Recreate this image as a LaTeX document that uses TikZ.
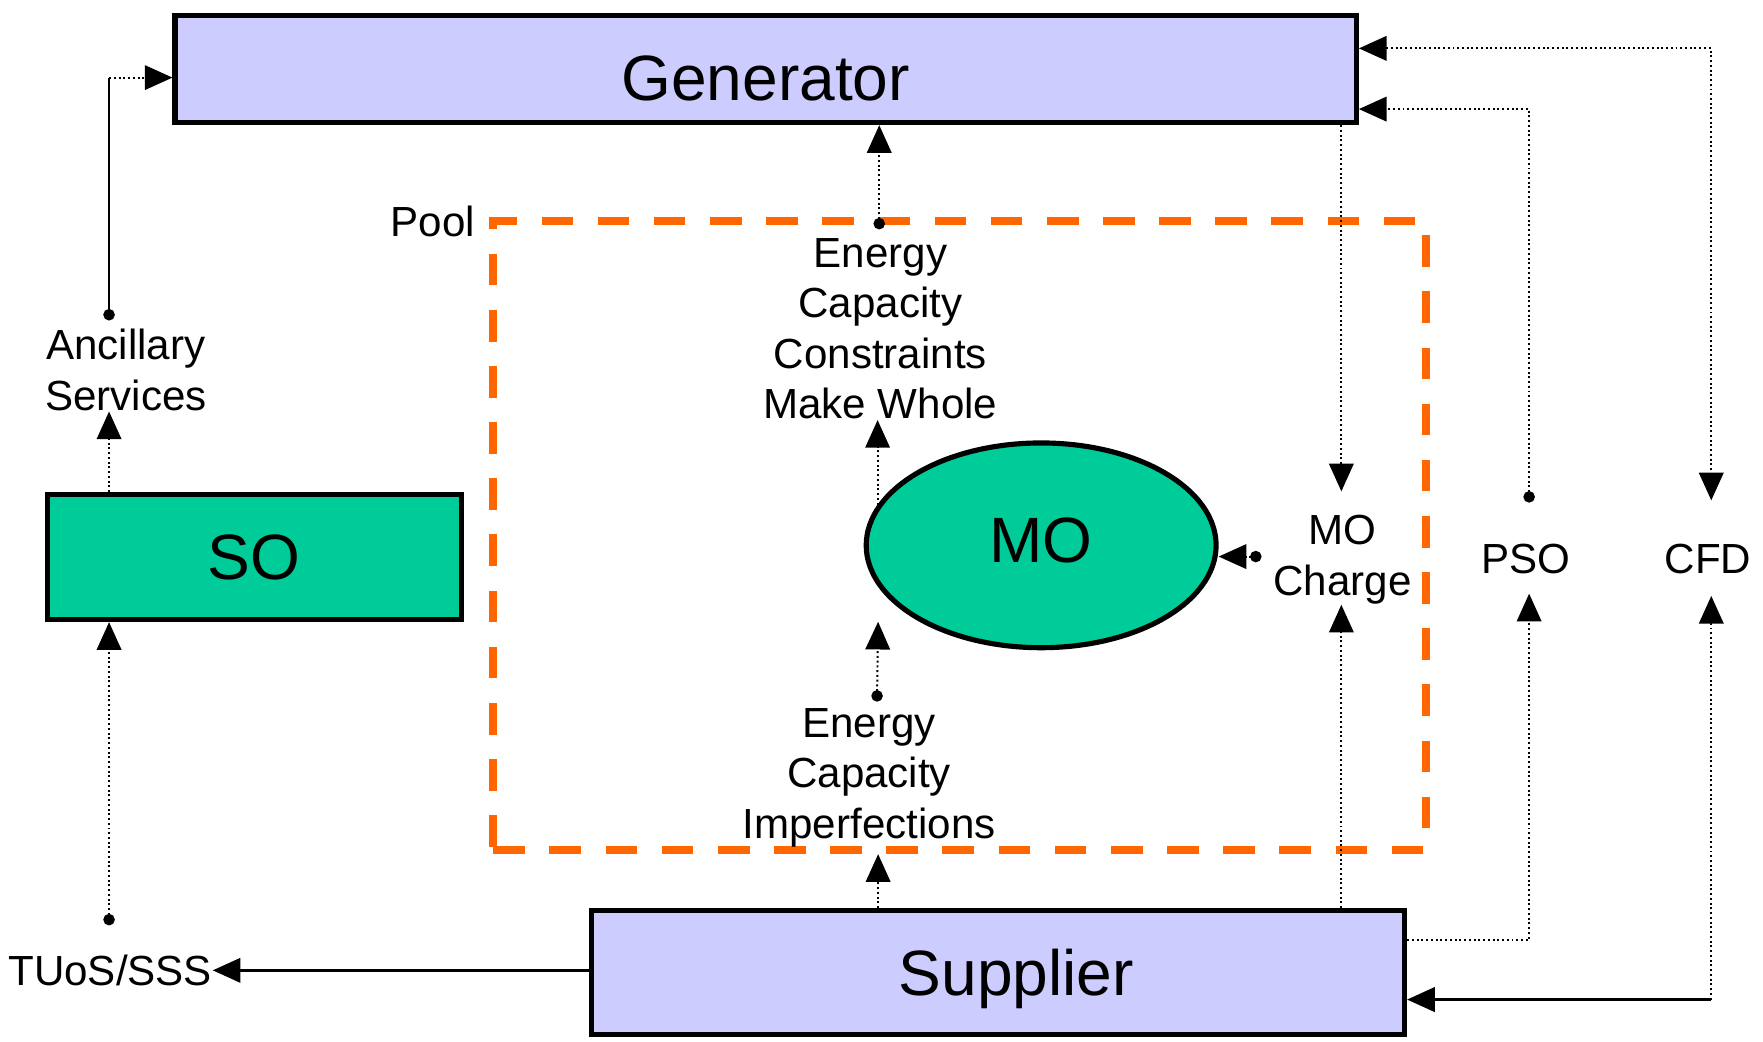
\documentclass[tikz,border=0pt]{standalone}
\usepackage{fontspec}
\setmainfont{Liberation Sans}
\usetikzlibrary{arrows.meta,shapes.geometric}
\definecolor{agentBlue}{HTML}{CCCCFF}
\definecolor{operatorGreen}{HTML}{00CC99}
\definecolor{poolOrange}{HTML}{FF6600}
\tikzstyle{agentBox}=[shape = rectangle, draw, line width = 1.3pt, fill = agentBlue, inner sep = 0pt, text depth = 0pt, font = \fontsize{16.2}{19}\selectfont]
\tikzstyle{operatorBox}=[agentBox, fill = operatorGreen]
\tikzstyle{operatorOval}=[agentBox, shape = ellipse, fill = operatorGreen]
\tikzstyle{flowLabel}=[inner sep = 0pt, align = center, font = \fontsize{10.65}{12.8}\selectfont]

\begin{document}
\begin{tikzpicture}[x = 0.01cm, y = -0.01cm, >={Triangle[length = 7pt, width = 6.2pt]}]
\tikzstyle{dotFlow}=[line width = 0.5pt, dash pattern = on 0.5pt off 0.7pt]
\tikzstyle{solidFlow}=[line width = 0.6pt]
\tikzstyle{poolFrame}=[shape = rectangle, draw = poolOrange, line width = 2pt, dash pattern = on 8pt off 6.2pt]
\useasboundingbox (0,0) rectangle (1568,926);
\node[poolFrame, minimum width = 8.29cm, minimum height = 5.59cm] (pool) at (853.5,476.5) {};
\node[agentBox, minimum width = 10.5cm, minimum height = 0.95cm] (gen) at (681,61.5) {\raisebox{-4.6pt}{Generator}};
\node[agentBox, minimum width = 7.23cm, minimum height = 1.10cm] (sup) at (887.5,865) {\hspace*{9.4pt}Supplier};
\node[operatorBox, minimum width = 3.68cm, minimum height = 1.11cm] (so) at (226,495.5) {SO};
\node[operatorOval, minimum width = 3.11cm, minimum height = 1.82cm] (mo) at (926,485) {\raisebox{2.8pt}{MO}};
\node[flowLabel] (poolName) at (385,197) {Pool};
\node[flowLabel] (anc) at (112,329) {Ancillary\\Services};
\node[flowLabel] (ecm) at (783,292.3) {Energy\\Capacity\\Constraints\\Make Whole};
\node[flowLabel] (eci) at (773,691.6) {Energy\\Capacity\\Imperfections};
\node[flowLabel] (moc) at (1194,497.7) {MO\\Charge};
\node[flowLabel] (pso) at (1357,497) {PSO};
\node[flowLabel] (cfd) at (1519,497) {CFD};
\node[flowLabel] (tuos) at (98,863) {TUoS/SSS};
\coordinate (ancdot) at (97,285);
\coordinate (gencorner) at (97,69);
\coordinate (tuosdot) at (97,823);
\coordinate (ecmdot) at (782,204);
\coordinate (ecidot) at (780,624);
\coordinate (ecitip) at (781,553);
\coordinate (mocdot) at (1122,495);
\coordinate (moctop) at (1193,437);
\coordinate (psodot) at (1360,447);
\coordinate (psocorner) at (1360,97);
\coordinate (psotip) at (1360,528);
\coordinate (supcorner) at (1360,836);
\coordinate (cfdcorner1) at (1522,43);
\coordinate (cfdtop) at (1522,445);
\coordinate (cfdcorner2) at (1522,889);
\coordinate (cfdbot) at (1522,530);
\draw[solidFlow, {Circle[length = 2.9pt]}-] (ancdot) -- (gencorner);
\draw[dotFlow, ->] (gencorner) -- (gen.west |- gencorner);
\draw[dotFlow, ->] (so.north -| ancdot) -- (anc.south -| ancdot);
\draw[dotFlow, {Circle[length = 2.9pt]}->] (tuosdot) -- (so.south -| tuosdot);
\draw[solidFlow, ->] (sup.west |- tuos) -- (tuos.east);
\draw[dotFlow, ->] (sup.north -| ecitip) -- (pool.south -| ecitip);
\draw[dotFlow, {Circle[length = 2.9pt]}->] (ecidot) -- (ecitip);
\draw[dotFlow, ->] (mo.166) -- (mo.166 |- ecm.south);
\draw[dotFlow, {Circle[length = 2.9pt]}->] (ecmdot) -- (gen.south -| ecmdot);
\draw[dotFlow, ->] (gen.south -| moctop) -- (moctop);
\draw[dotFlow, {Circle[length = 2.9pt]}->] (mocdot) -- (mo.east |- mocdot);
\draw[dotFlow, ->] (sup.north -| moctop) -- (moc.south -| moctop);
\draw[dotFlow, {Circle[length = 2.9pt]}->] (psodot) -- (psocorner) -- (gen.east |- psocorner);
\draw[dotFlow, ->] (sup.east |- supcorner) -- (supcorner) -- (psotip);
\draw[dotFlow, <->] (gen.east |- cfdcorner1) -- (cfdcorner1) -- (cfdtop);
\draw[solidFlow, <-] (sup.east |- cfdcorner2) -- (cfdcorner2);
\draw[dotFlow, ->] (cfdcorner2) -- (cfdbot);
\end{tikzpicture}
\end{document}
